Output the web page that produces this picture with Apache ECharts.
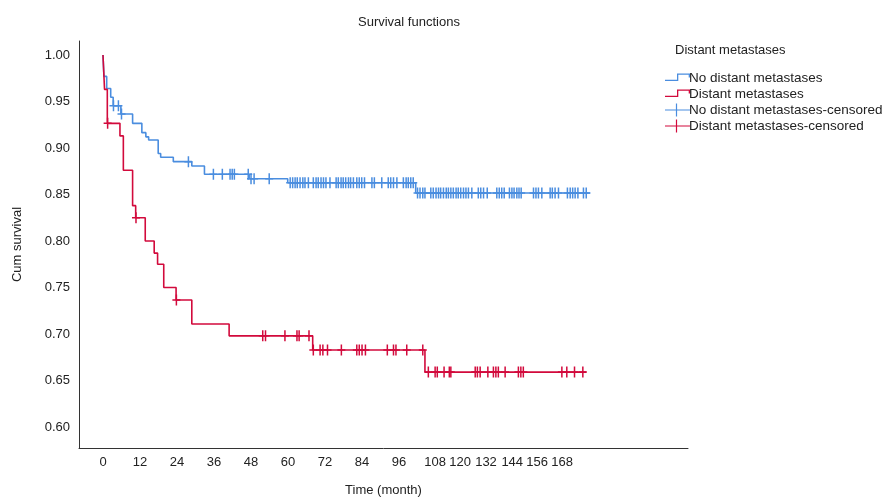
<!DOCTYPE html>
<html>
<head>
<meta charset="utf-8">
<script src="https://cdn.jsdelivr.net/npm/echarts@6/dist/echarts.min.js"></script>
<style>
html,body{margin:0;padding:0;background:#fff;}
#chart{width:883px;height:499px;}
</style>
</head>
<body>
<div id="chart"></div>
<script>
// ---- data (months, cumulative survival) ----
const noMetTimes = [0, 0.3, 1.2, 2.5, 3.3, 5.8, 9.6, 12.6, 13.9, 14.8, 17.9, 18.7, 22.8, 28.8, 32.9, 47.4, 59.9, 101.4, 158.0];
const noMetSurv  = [1.0, 0.977, 0.964, 0.9545, 0.9455, 0.9366, 0.9265, 0.9165, 0.912, 0.9086, 0.894, 0.890, 0.8853, 0.8806, 0.8718, 0.867, 0.8627, 0.8516, 0.8516];
const noMetCensored = [3.4, 5.0, 6.0, 27.7, 35.8, 38.7, 41.2, 41.9, 42.6, 47.1, 48.0, 49.0, 53.9,
  60.7, 61.5, 62.3, 63.0, 63.9, 64.8, 65.5, 66.6, 68.2, 69.1, 69.8, 70.7, 71.5, 72.3, 73.6, 75.6, 76.3, 77.2, 77.9, 78.7, 79.6, 80.3, 81.2, 82.3, 83.1, 83.9, 84.8, 87.2, 88.0, 90.4, 92.5, 93.3, 94.2, 95.3, 97.4, 98.3, 99.0, 99.8, 100.6,
  102.0, 102.8, 103.7, 104.4, 106.3, 107.1, 108.0, 108.8, 109.5, 110.4, 111.3, 112.0, 112.8, 113.6, 114.5, 115.2, 116.0, 116.9, 117.7, 118.5, 119.6, 121.7, 122.5, 123.4, 124.6, 127.7, 128.5, 129.3, 130.1, 131.8, 132.6, 133.3, 134.2, 134.9, 135.6, 139.6, 140.4, 141.2, 142.3, 145.0, 145.7, 146.6, 147.7, 150.6, 151.5, 152.3, 153.1, 154.0, 155.8, 156.7];

const metTimes = [0, 0.5, 1.4, 5.5, 6.6, 9.6, 10.6, 13.7, 16.6, 17.7, 19.7, 23.7, 28.8, 40.9, 68.0, 104.4, 156.7];
const metSurv  = [1.0, 0.963, 0.9265, 0.913, 0.876, 0.838, 0.825, 0.800, 0.787, 0.775, 0.750, 0.7366, 0.7108, 0.698, 0.6828, 0.659, 0.659];
const metCensored = [1.5, 10.7, 23.8, 51.8, 52.7, 59.0, 62.9, 63.6, 66.8,
  68.2, 70.4, 71.3, 72.8, 77.3, 82.3, 83.1, 84.0, 85.1, 92.2, 94.2, 95.0, 98.5, 103.7,
  105.5, 107.7, 108.4, 110.6, 112.3, 112.8, 120.7, 121.4, 122.3, 124.8, 126.6, 127.4, 128.2, 130.4, 134.7, 135.5, 136.3, 148.8, 150.4, 152.9, 155.6];

// x tick labels and where the reference prints them (in months)
const xTickLabels = ['0', '12', '24', '36', '48', '60', '72', '84', '96', '108', '120', '132', '144', '156', '168'];
const xTickAt     = [0, 12, 24, 36, 48, 60, 72, 84, 96, 107.7, 115.8, 124.2, 132.7, 140.8, 148.9];
const yTicks = [0.60, 0.65, 0.70, 0.75, 0.80, 0.85, 0.90, 0.95, 1.00];

const seriesNames = ['No distant metastases', 'Distant metastases', 'No distant metastases-censored', 'Distant metastases-censored'];

// ---- helpers ----
function survAt(times, surv, t) {
  let s = surv[0];
  for (let i = 0; i < times.length; i++) { if (times[i] <= t) s = surv[i]; else break; }
  return s;
}
const pairs = (xs, ys) => xs.map((x, i) => [x, ys[i]]);
const censorPts = (cs, times, surv) => cs.map(t => [t, survAt(times, surv, t)]);

const BLUE = '#4a8ddf';
const RED = '#d20a3c';
const FONT = 'Liberation Sans, Arial, sans-serif';
const TXT = '#222';

const plusPath = 'path://M3.25,0H4.75V4.75H8V6.25H4.75V11H3.25V6.25H0V4.75H3.25Z';
const stepIcon = 'path://M0,0h0.01v0.01h-0.01Z M24.99,12.99h0.01v0.01h-0.01Z M0,8.3H12V2H25V6H23.7V3.3H13.3V9.6H0Z';
const censIcon = 'path://M0,5.9H10.9V0H12.1V5.9H25V7.1H12.1V13H10.9V7.1H0Z';

const legendItem = (name, icon, color) => ({
  name, icon,
  itemStyle: {color, borderColor: color, borderWidth: 0},
  lineStyle: {color, width: 0}
});

const chart = echarts.init(document.getElementById('chart'), null, {renderer: 'canvas'});
chart.setOption({
  backgroundColor: '#fff',
  animation: false,
  textStyle: {fontFamily: FONT},
  title: [
    {text: 'Survival functions', left: 353, top: 11,
     textStyle: {fontSize: 13, fontWeight: 'normal', color: TXT, fontFamily: FONT}},
    {text: 'Distant metastases', left: 670, top: 39,
     textStyle: {fontSize: 13, fontWeight: 'normal', color: TXT, fontFamily: FONT}}
  ],
  legend: {
    orient: 'vertical', left: 660, top: 65,
    itemWidth: 25, itemHeight: 13, itemGap: 0,
    textStyle: {fontSize: 13.5, lineHeight: 16, color: TXT, fontFamily: FONT, padding: [0, 0, 0, -6]},
    data: [
      legendItem(seriesNames[0], stepIcon, BLUE),
      legendItem(seriesNames[1], stepIcon, RED),
      legendItem(seriesNames[2], censIcon, BLUE),
      legendItem(seriesNames[3], censIcon, RED)
    ]
  },
  grid: {left: 79, right: 195, top: 41, bottom: 51, containLabel: false, outerBoundsMode: 'none'},
  xAxis: {
    type: 'value', min: -7.78, max: 189.7,
    name: 'Time (month)', nameLocation: 'middle', nameGap: 36,
    nameTextStyle: {fontSize: 13, color: TXT, fontFamily: FONT},
    axisLine: {show: true, onZero: false, lineStyle: {color: '#333', width: 1}},
    axisTick: {show: false},
    splitLine: {show: false},
    axisLabel: {
      customValues: xTickAt, margin: 8, fontSize: 13, color: TXT, fontFamily: FONT,
      formatter: v => { const i = xTickAt.indexOf(v); return i >= 0 ? xTickLabels[i] : ''; }
    }
  },
  yAxis: {
    type: 'value', min: 0.5774, max: 1.01505,
    name: 'Cum survival', nameLocation: 'middle', nameGap: 55, nameRotate: 90,
    nameTextStyle: {fontSize: 13, color: TXT, fontFamily: FONT},
    axisLine: {show: true, onZero: false, lineStyle: {color: '#333', width: 1}},
    axisTick: {show: false},
    splitLine: {show: false},
    axisLabel: {customValues: yTicks, margin: 9, fontSize: 13, color: TXT, fontFamily: FONT,
      formatter: v => v.toFixed(2)}
  },
  series: [
    {name: seriesNames[0], type: 'line', step: 'end', symbol: 'none', z: 3,
     color: BLUE, itemStyle: {color: BLUE},
     lineStyle: {color: BLUE, width: 1.6}, data: pairs(noMetTimes, noMetSurv)},
    {name: seriesNames[1], type: 'line', step: 'end', symbol: 'none', z: 4,
     color: RED, itemStyle: {color: RED},
     lineStyle: {color: RED, width: 1.6}, data: pairs(metTimes, metSurv)},
    {name: seriesNames[2], type: 'scatter', symbol: plusPath, symbolSize: [8, 11], z: 5,
     color: BLUE, itemStyle: {color: BLUE, opacity: 1}, data: censorPts(noMetCensored, noMetTimes, noMetSurv)},
    {name: seriesNames[3], type: 'scatter', symbol: plusPath, symbolSize: [8, 11], z: 6,
     color: RED, itemStyle: {color: RED, opacity: 1}, data: censorPts(metCensored, metTimes, metSurv)}
  ]
});
</script>
</body>
</html>
